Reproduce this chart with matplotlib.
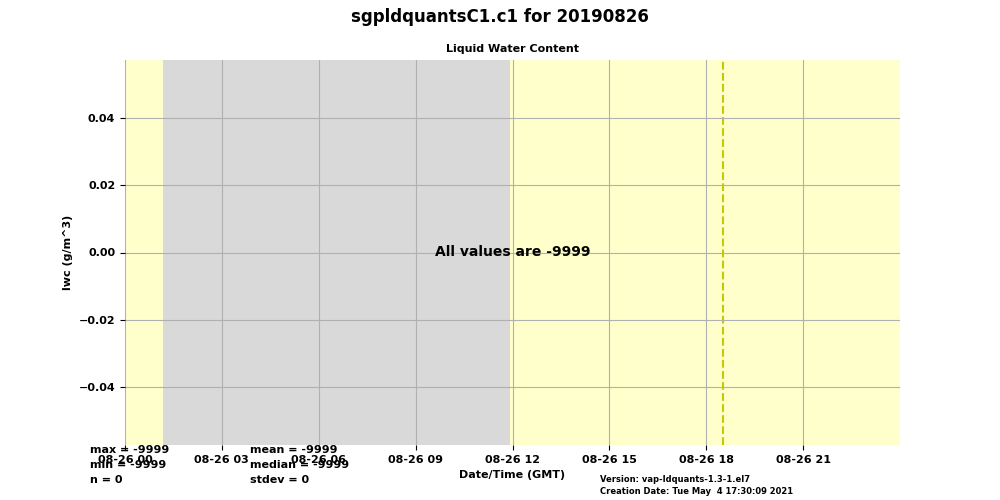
import matplotlib
matplotlib.use('Agg')
import matplotlib.pyplot as plt
import matplotlib.dates as mdates
import numpy as np
import datetime as dt

day = dt.datetime(2019, 8, 26)
hour_ticks = [0, 3, 6, 9, 12, 15, 18, 21]
missing_span = [1.18, 11.91]   # hours with no data (gray)
flag_line = 18.53              # dashed marker, hours
stats_left = ['max = -9999', 'min = -9999', 'n = 0']
stats_right = ['mean = -9999', 'median = -9999', 'stdev = 0']
ylims = (-0.0572, 0.0572)
yticks = [-0.04, -0.02, 0.00, 0.02, 0.04]


def t(h):
    return day + dt.timedelta(hours=h)


plt.rcParams['font.weight'] = 'bold'
plt.rcParams['axes.labelweight'] = 'bold'
plt.rcParams['axes.titleweight'] = 'bold'

fig = plt.figure(figsize=(10, 5), dpi=100)
ax = fig.add_axes([0.125, 0.11, 0.775, 0.77])
ax.set_facecolor('#ffffcc')
ax.axvspan(t(missing_span[0]), t(missing_span[1]), color='#d9d9d9', lw=0)
ax.axvline(t(flag_line), color='#c8c800', ls='--', lw=1.5)

ax.set_xlim(t(0), t(24))
ax.set_ylim(*ylims)
ax.set_xticks([t(h) for h in hour_ticks])
ax.xaxis.set_major_formatter(mdates.DateFormatter('%m-%d %H'))
ax.set_yticks(yticks)
ax.tick_params(labelsize=8)
ax.grid(True, color='#b0b0b0', lw=0.8)
ax.set_axisbelow(False)
for s in ax.spines.values():
    s.set_visible(False)

ax.set_title('Liquid Water Content', fontsize=8)
ax.set_xlabel('Date/Time (GMT)', fontsize=8)
ax.set_ylabel('lwc (g/m^3)', fontsize=8)
ax.text(0.5, 0.5, 'All values are -9999', transform=ax.transAxes,
        ha='center', va='center', fontsize=10)

fig.suptitle('sgpldquantsC1.c1 for 20190826', fontsize=12, fontweight='bold', y=0.985)

for i, s in enumerate(stats_left):
    fig.text(0.09, 0.1 - i * 0.03, s, fontsize=8, va='center')
for i, s in enumerate(stats_right):
    fig.text(0.25, 0.1 - i * 0.03, s, fontsize=8, va='center')

fig.text(0.6, 0.042, 'Version: vap-ldquants-1.3-1.el7', fontsize=6, va='center')
fig.text(0.6, 0.016, 'Creation Date: Tue May  4 17:30:09 2021', fontsize=6, va='center')

fig.savefig('out.png', dpi=100)
